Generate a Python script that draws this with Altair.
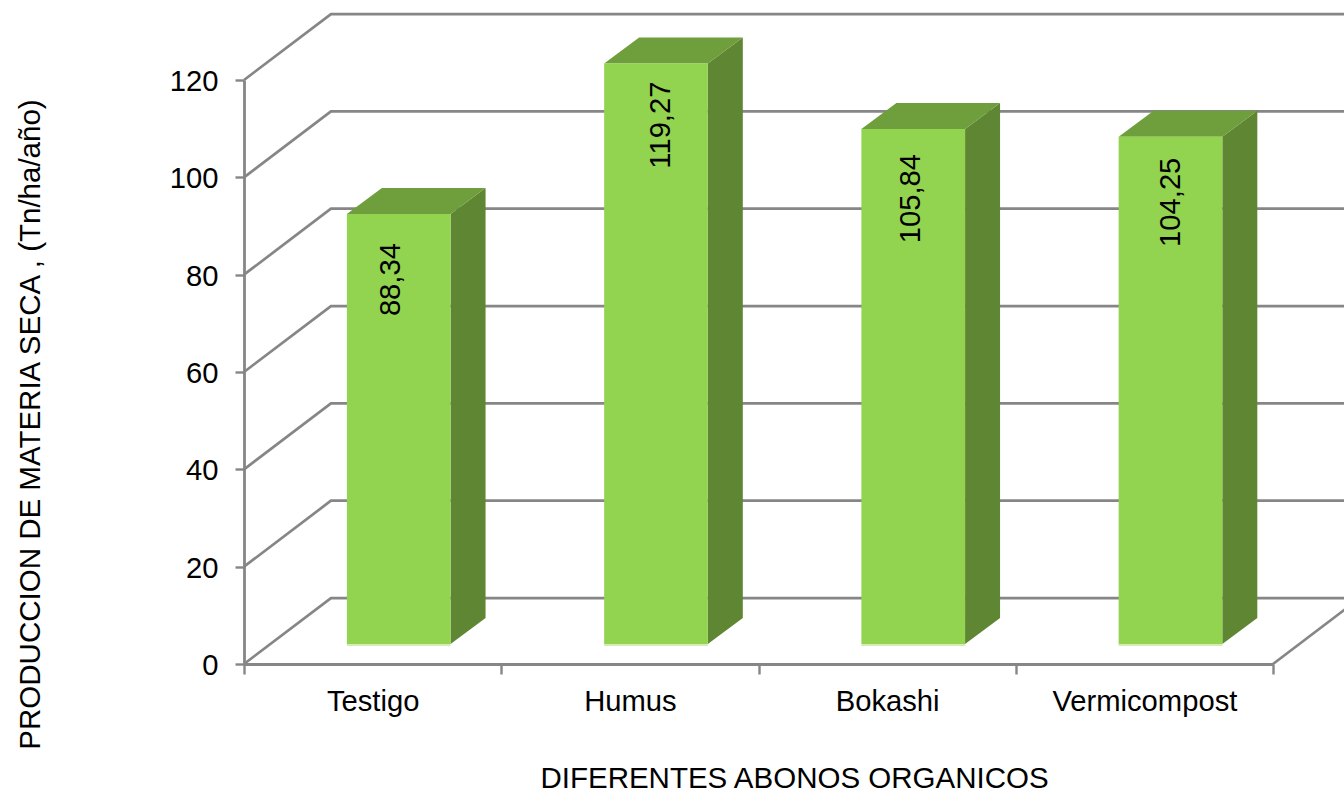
import altair as alt
import pandas as pd

# Dry matter production per fertiliser treatment
categories = ["Testigo", "Humus", "Bokashi", "Vermicompost"]
production = [88.34, 119.27, 105.84, 104.25]
y_ticks = [0, 20, 40, 60, 80, 100, 120]

FONT = "Liberation Sans"
GRID = "#868686"
TEXT_SIZE = 29.2
TITLE_SIZE = 29.5

# Oblique projection of the chart box, in axis units
WALL_DX, WALL_DY = 0.338, 13.55
BAR_DX, BAR_DY = 0.136, 5.34
BAR_LEFT, BAR_WIDTH = 0.4, 0.403
FLOOR_LIFT = 4.11

x_scale = alt.Scale(domain=[0, 4], nice=False, zero=False)
y_scale = alt.Scale(domain=[0, 120], nice=False, zero=False)


def px(field):
    return alt.X(field, type="quantitative", scale=x_scale, axis=None)


def py(field):
    return alt.Y(field, type="quantitative", scale=y_scale, axis=None)


# Floor and back wall lines
grid_rows = []
for level in y_ticks:
    grid_rows += [
        {"line": f"g{level}", "step": 0, "x": 0, "y": level},
        {"line": f"g{level}", "step": 1, "x": WALL_DX, "y": level + WALL_DY},
        {"line": f"g{level}", "step": 2, "x": 4 + WALL_DX, "y": level + WALL_DY},
    ]
grid_rows += [
    {"line": "floor", "step": 0, "x": 4, "y": 0},
    {"line": "floor", "step": 1, "x": 4 + WALL_DX, "y": WALL_DY},
]
grid = (
    alt.Chart(pd.DataFrame(grid_rows))
    .mark_line(color=GRID, strokeWidth=2.7, strokeCap="butt", strokeJoin="miter")
    .encode(x=px("x"), y=py("y"), detail="line:N", order="step:Q")
)

# Faces of each cuboid
front_rows, side_rows, top_rows = [], [], []
for i, (name, value) in enumerate(zip(categories, production)):
    x0 = i + BAR_LEFT
    x1 = x0 + BAR_WIDTH
    base = FLOOR_LIFT
    top = value + FLOOR_LIFT
    front_rows.append({"category": name, "x0": x0, "x1": x1, "xm": x0 + BAR_WIDTH / 2,
                       "base": base, "top": top, "strip": base - 0.42,
                       "label": f"{value:.2f}".replace(".", ",")})
    side_rows += [
        {"category": name, "x": x1, "y": top, "y2": base},
        {"category": name, "x": x1 + BAR_DX, "y": top + BAR_DY, "y2": base + BAR_DY},
    ]
    top_rows += [
        {"category": name, "x": x0, "y": top, "y2": top},
        {"category": name, "x": x0 + BAR_DX, "y": top + BAR_DY, "y2": top},
        {"category": name, "x": x1, "y": top + BAR_DY, "y2": top},
        {"category": name, "x": x1 + BAR_DX, "y": top + BAR_DY, "y2": top + BAR_DY},
    ]
front_df = pd.DataFrame(front_rows)

side = (
    alt.Chart(pd.DataFrame(side_rows))
    .mark_area(color="#5F8632", interpolate="linear")
    .encode(x=px("x"), y=py("y"), y2="y2:Q", detail="category:N")
)
lid = (
    alt.Chart(pd.DataFrame(top_rows))
    .mark_area(color="#6F9E3C", interpolate="linear")
    .encode(x=px("x"), y=py("y"), y2="y2:Q", detail="category:N")
)
front = (
    alt.Chart(front_df)
    .mark_rect(color="#92D350")
    .encode(x=px("x0"), x2="x1:Q", y=py("base"), y2="top:Q")
)
# Pale reflection along the foot of each bar
strip = (
    alt.Chart(front_df)
    .mark_rect(color="#D5EBB5")
    .encode(x=px("x0"), x2="x1:Q", y=py("strip"), y2="base:Q")
)

# Rotated value labels, each with its own small nudge inside the bar
nudges = [(-29, -7.5), (-18, 5), (-25, -2), (-21, 1)]
value_labels = [
    alt.Chart(front_df.iloc[[i]])
    .mark_text(angle=270, align="right", baseline="middle", font=FONT,
               fontSize=TEXT_SIZE, color="black", dx=nudge[0], dy=nudge[1])
    .encode(x=px("xm"), y=py("top"), text="label:N")
    for i, nudge in enumerate(nudges)
]

# Category and value axes
axes = (
    alt.Chart(pd.DataFrame({"category": categories, "production": production}))
    .mark_point(opacity=0)
    .encode(
        x=alt.X(
            "category:N",
            sort=categories,
            scale=alt.Scale(domain=categories, paddingInner=0, paddingOuter=0),
            axis=alt.Axis(
                title="DIFERENTES ABONOS ORGANICOS",
                titleFont=FONT, titleFontSize=TITLE_SIZE, titleFontWeight="normal", titleColor="black",
                titleLimit=800,
                titleX=550, titleY=114, titleBaseline="middle", titleAlign="center",
                labelFont=FONT, labelFontSize=TEXT_SIZE, labelColor="black", labelAngle=0,
                labelPadding=13, labelOverlap=False, labelLimit=400,
                tickBand="extent", tickColor=GRID, tickWidth=2.4, tickSize=10,
                domainColor=GRID, domainWidth=2.8, grid=False,
            ),
        ),
        y=alt.Y(
            "production:Q",
            scale=y_scale,
            axis=alt.Axis(
                title="PRODUCCION DE MATERIA SECA , (Tn/ha/año)",
                titleFont=FONT, titleFontSize=TITLE_SIZE, titleFontWeight="normal", titleColor="black",
                titleLimit=800,
                titleX=-214, titleY=344, titleBaseline="middle", titleAlign="center", titleAngle=270,
                values=y_ticks,
                labelFont=FONT, labelFontSize=TEXT_SIZE, labelColor="black",
                labelPadding=17, labelOffset=1.5,
                tickColor=GRID, tickWidth=2.4, tickSize=9,
                domainColor=GRID, domainWidth=2.8, grid=False,
            ),
        ),
    )
)

chart = (
    alt.layer(grid, side, lid, front, strip, *value_labels, axes)
    .resolve_scale(x="independent", y="independent")
    .properties(
        width=1029,
        height=584,
        padding={"left": 244, "top": 80, "right": 71, "bottom": 129},
        autosize=alt.AutoSizeParams(type="none"),
        background="white",
    )
    .configure_view(stroke="transparent", strokeWidth=0)
)

chart.save("out.html", embed_options={"renderer": "svg", "actions": False})
